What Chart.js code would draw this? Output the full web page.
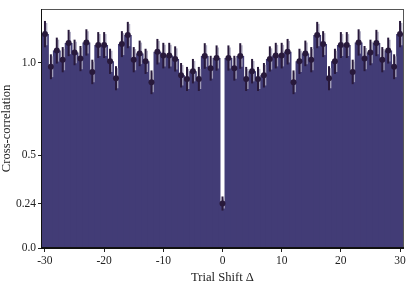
<!DOCTYPE html>
<html>
<head>
<meta charset="utf-8">
<script src="https://cdn.jsdelivr.net/npm/chart.js@4/dist/chart.umd.min.js"></script>
<style>
html,body{margin:0;padding:0;background:#fff;}
#wrap{width:415px;height:292px;position:relative;}
</style>
</head>
<body>
<div id="wrap"><canvas id="c" width="415" height="292"></canvas></div>
<script>
const shifts = [-30,-29,-28,-27,-26,-25,-24,-23,-22,-21,-20,-19,-18,-17,-16,-15,-14,-13,-12,-11,-10,-9,-8,-7,-6,-5,-4,-3,-2,-1,0,1,2,3,4,5,6,7,8,9,10,11,12,13,14,15,16,17,18,19,20,21,22,23,24,25,26,27,28,29,30];
const correlation = [1.154,0.978,1.065,1.016,1.106,1.055,1.022,1.109,0.950,1.095,1.095,1.007,0.916,1.100,1.149,1.016,1.050,1.007,0.894,1.059,1.038,1.038,1.020,0.932,0.912,0.954,0.912,1.036,0.970,1.025,0.240,1.025,0.970,1.036,0.912,0.954,0.912,0.932,1.020,1.038,1.038,1.059,0.894,1.007,1.050,1.016,1.149,1.100,0.916,1.007,1.095,1.095,0.950,1.109,1.022,1.055,1.106,1.016,1.065,0.978,1.154];
const errors = [0.071,0.067,0.070,0.068,0.071,0.069,0.068,0.071,0.066,0.070,0.070,0.068,0.065,0.070,0.071,0.068,0.069,0.068,0.064,0.069,0.069,0.069,0.068,0.066,0.065,0.066,0.065,0.069,0.067,0.068,0.038,0.068,0.067,0.069,0.065,0.066,0.065,0.066,0.068,0.069,0.069,0.069,0.064,0.068,0.069,0.068,0.071,0.070,0.065,0.068,0.070,0.070,0.066,0.071,0.068,0.069,0.071,0.068,0.070,0.067,0.071];
const xTicks = [-30,-20,-10,0,10,20,30];
const yTicks = [0.0,0.24,0.5,1.0];
const yTickLabels = ["0.0","0.24","0.5","1.0"];

const FONT = "'Liberation Serif','DejaVu Serif',serif";

const errPlugin = {
  id:'errbars',
  afterDatasetDraw(chart, args){
    if(args.index!==0) return;
    const ctx = chart.ctx, xs = chart.scales.x, ys = chart.scales.y;
    ctx.save();
    for(let i=0;i<shifts.length;i++){
      const x = xs.getPixelForValue(shifts[i]);
      const y1 = ys.getPixelForValue(correlation[i]+errors[i]);
      const y2 = ys.getPixelForValue(correlation[i]-errors[i]);
      ctx.strokeStyle='rgba(170,166,190,0.9)';
      ctx.lineWidth=1.6;
      ctx.beginPath();ctx.moveTo(x+1.6,y1+2);ctx.lineTo(x+1.6,y2-2);ctx.stroke();
      ctx.strokeStyle='#28193b';
      ctx.lineWidth=2;
      ctx.beginPath();ctx.moveTo(x,y1);ctx.lineTo(x,y2);ctx.stroke();
    }
    ctx.restore();
  }
};
const framePlugin = {
  id:'frame',
  afterDraw(chart){
    const a = chart.chartArea, ctx = chart.ctx;
    ctx.save();
    ctx.fillStyle='#555';
    ctx.fillRect(Math.round(a.left)-1, Math.round(a.top), Math.round(a.right)-Math.round(a.left)+2, 1);
    ctx.fillRect(Math.round(a.right), Math.round(a.top), 1, Math.round(a.bottom)-Math.round(a.top)+1);
    ctx.fillStyle='#111';
    ctx.fillRect(Math.round(a.left)-1, Math.round(a.top), 1, Math.round(a.bottom)-Math.round(a.top)+1);
    ctx.fillRect(Math.round(a.left)-1, Math.round(a.bottom)-1, Math.round(a.right)-Math.round(a.left)+2, 2);
    ctx.restore();
  }
};

new Chart(document.getElementById('c'), {
  data:{
    datasets:[
      {type:'bar', data:shifts.map((s,i)=>({x:s,y:correlation[i]})), backgroundColor:'#423c76', borderWidth:0, barPercentage:1.32, categoryPercentage:1.0, order:2},
      {type:'scatter', data:shifts.map((s,i)=>({x:s,y:correlation[i]})), pointRadius:3, pointBackgroundColor:'#28193b', pointBorderWidth:0, showLine:false, order:1}
    ]
  },
  options:{
    responsive:false, animation:false, devicePixelRatio:1,
    layout:{padding:{top:8,right:12,left:0,bottom:0}},
    plugins:{legend:{display:false}, tooltip:{enabled:false}},
    scales:{
      x:{type:'linear', min:-30.5, max:30.5, offset:false,
        afterBuildTicks(s){ s.ticks = xTicks.map(v=>({value:v})); },
        afterFit(s){ s.height = 44; },
        grid:{drawOnChartArea:false, offset:false, tickLength:4, tickColor:'#222', tickWidth:1},
        border:{display:false},
        ticks:{color:'#222', font:{family:FONT,size:11.5}, padding:2, maxRotation:0, callback:v=>String(v)},
        title:{display:true, text:'Trial Shift Δ', color:'#222', font:{family:FONT,size:12.6}, padding:{top:0,bottom:7}}
      },
      y:{type:'linear', min:0, max:1.29,
        afterBuildTicks(s){ s.ticks = yTicks.map(v=>({value:v})); },
        afterFit(s){ s.width = 42; },
        grid:{drawOnChartArea:false, tickLength:4, tickColor:'#222', tickWidth:1},
        border:{display:false},
        ticks:{color:'#222', font:{family:FONT,size:11.5}, padding:2, callback:(v)=>{const k=yTicks.indexOf(v);return k>=0?yTickLabels[k]:'';}},
        title:{display:true, text:'Cross-correlation', color:'#222', font:{family:FONT,size:12.6}, padding:{top:-1,bottom:0}}
      }
    }
  },
  plugins:[errPlugin, framePlugin]
});
</script>
</body>
</html>
